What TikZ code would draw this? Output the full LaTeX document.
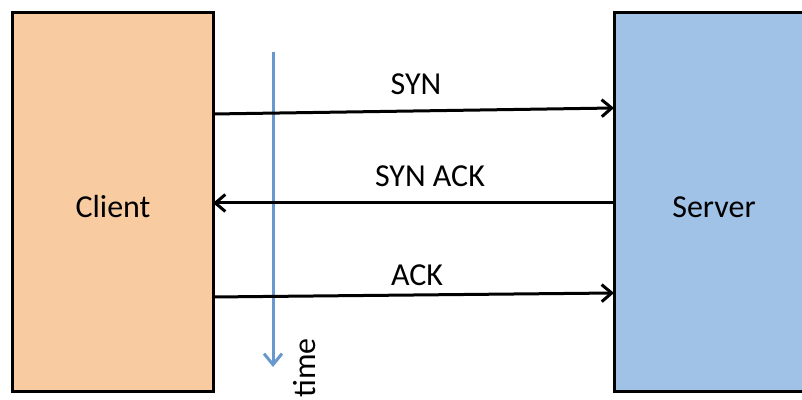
\documentclass[tikz,border=0pt]{standalone}
\usepackage{fontspec}
\setmainfont{Carlito}
\usetikzlibrary{arrows.meta,calc}
\definecolor{clientfill}{RGB}{249,203,160}
\definecolor{serverfill}{RGB}{160,194,230}
\definecolor{timeblue}{RGB}{104,152,205}
\tikzset{
  box/.style={draw=black, line width=3pt, minimum width=#1, inner sep=0pt, outer sep=0pt},
  lbl/.style={font=\fontsize{32}{38}\selectfont, inner sep=0pt, anchor=base},
  msg/.style={draw=black, line width=3pt, -{Straight Barb[length=10pt,width=17pt,line width=3pt]}},
  timearrow/.style={draw=timeblue, line width=3pt, -{Straight Barb[length=11pt,width=18pt,line width=3pt]}}
}
\begin{document}
\begin{tikzpicture}[x=1pt,y=1pt]
\useasboundingbox (0,0) rectangle (802,399);
\clip (0,0) rectangle (802,399);
% boxes
\node[box=201pt, minimum height=378pt, fill=clientfill] (client) at (112.5,197) {};
\node[box=206pt, minimum height=378pt, fill=serverfill] (server) at (717,197) {};
\node[lbl] (clienttext) at (113,181) {Client};
\node[lbl] (servertext) at (714,181) {Server};
% time arrow
\coordinate (tstart) at (273,347);
\coordinate (tend) at (273,32);
\draw[timearrow] (tstart) -- (tend);
\node[lbl, rotate=90] (timetext) at (315,31) {time};
% messages
\draw[msg] (client.east |- 0,285) -- (server.west |- 0,291);
\node[lbl] (syn) at (416,304) {SYN};
\draw[msg] (server.west |- 0,196) -- (client.east |- 0,196);
\node[lbl] (synack) at (430,212) {SYN ACK};
\draw[msg] (client.east |- 0,102) -- (server.west |- 0,106);
\node[lbl] (ack) at (417,114) {ACK};
\end{tikzpicture}
\end{document}
